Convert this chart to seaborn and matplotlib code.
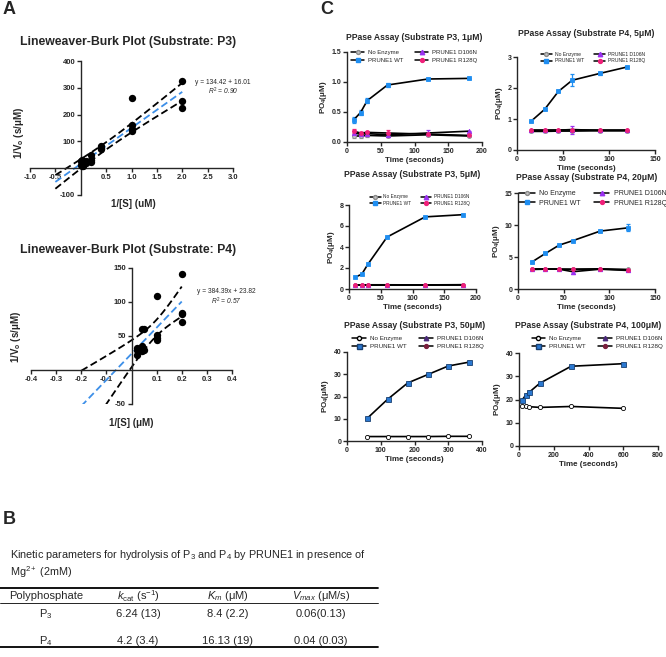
import numpy as np
import matplotlib
matplotlib.use('Agg')
import matplotlib.pyplot as plt
from matplotlib.lines import Line2D
import seaborn as sns

sns.set_theme(style='white')
plt.rcParams['font.family'] = ['Liberation Sans', 'DejaVu Sans']
plt.rcParams['mathtext.fontset'] = 'custom'
plt.rcParams['mathtext.rm'] = 'Liberation Sans'
plt.rcParams['mathtext.it'] = 'Liberation Sans:italic'
plt.rcParams['mathtext.bf'] = 'Liberation Sans:bold'
plt.rcParams['axes.linewidth'] = 1.0

# ---- A: Lineweaver-Burk data ----
p3_inv_s = [2, 2, 2, 1, 1, 1, 1, 0.4, 0.4, 0.4, 0.2, 0.2, 0.2, 0.1, 0.1,
            0.05, 0.05, 0.05, 0.02, 0.02, 0.02, 0.01, 0.01]
p3_inv_v = [324, 251, 223, 263, 163, 145, 137, 84, 75, 70, 49, 30, 22, 25, 20,
            22, 15, 10, 30, 18, 8, 28, 12]
p3_slope, p3_icpt = 134.42, 16.01

p4_inv_s = [0.2, 0.2, 0.2, 0.2, 0.1, 0.1, 0.1, 0.1, 0.05, 0.05,
            0.04, 0.04, 0.04, 0.02, 0.02, 0.02]
p4_inv_v = [141, 84, 82, 71, 109, 52, 47, 44, 61, 30,
            61, 36, 28, 33, 30, 22]
p4_slope, p4_icpt = 384.39, 23.82

# ---- B: kinetic table ----
tbl_cols = ['Polyphosphate', r'$k_{\mathrm{cat}}$ (s$^{-1}$)', r'$K_{m}$ (μM)', r'$V_{max}$ (μM/s)']
tbl_sub = ['P$_3$', 'P$_4$']
tbl_kcat = ['6.24 (13)', '4.2 (3.4)']
tbl_km = ['8.4 (2.2)', '16.13 (19)']
tbl_vmax = ['0.06(0.13)', '0.04 (0.03)']

# ---- C: PPase assays ----
groups = ['No Enzyme', 'PRUNE1 WT', 'PRUNE1 D106N', 'PRUNE1 R128Q']

c1_time = [10, 20, 30, 60, 120, 180]
c1_none = [0.10, 0.10, 0.11, 0.10, 0.12, 0.10]
c1_none_err = [0.04, 0.03, 0.02, 0.02, 0.02, 0.01]
c1_wt = [0.37, 0.49, 0.69, 0.95, 1.05, 1.06]
c1_wt_err = [0.05, 0.04, 0.04, 0.04, 0.01, 0.01]
c1_d106n = [0.15, 0.13, 0.14, 0.12, 0.15, 0.18]
c1_d106n_err = [0.03, 0.03, 0.02, 0.02, 0.05, 0.01]
c1_r128q = [0.18, 0.15, 0.16, 0.15, 0.13, 0.11]
c1_r128q_err = [0.03, 0.02, 0.02, 0.05, 0.02, 0.01]

c2_time = [15, 30, 45, 60, 90, 120]
c2_none = [0.60, 0.60, 0.61, 0.61, 0.62, 0.62]
c2_none_err = [0.03, 0.03, 0.03, 0.03, 0.05, 0.03]
c2_wt = [0.92, 1.31, 1.89, 2.25, 2.47, 2.68]
c2_wt_err = [0.02, 0.03, 0.03, 0.20, 0.06, 0.02]
c2_d106n = [0.63, 0.63, 0.64, 0.66, 0.63, 0.63]
c2_d106n_err = [0.02, 0.05, 0.02, 0.13, 0.02, 0.02]
c2_r128q = [0.63, 0.63, 0.63, 0.63, 0.63, 0.63]
c2_r128q_err = [0.02, 0.02, 0.02, 0.02, 0.02, 0.02]

c3_time = [10, 20, 30, 60, 120, 180]
c3_none = [0.38, 0.37, 0.37, 0.38, 0.38, 0.39]
c3_wt = [1.14, 1.40, 2.38, 4.95, 6.87, 7.08]
c3_d106n = [0.40, 0.38, 0.36, 0.38, 0.38, 0.40]
c3_r128q = [0.40, 0.39, 0.40, 0.40, 0.39, 0.41]

c4_time = [15, 30, 45, 60, 90, 120]
c4_none = [3.10, 3.10, 3.10, 3.05, 3.10, 3.05]
c4_wt = [4.20, 5.55, 6.85, 7.55, 9.05, 9.55]
c4_wt_err = [0.10, 0.10, 0.10, 0.10, 0.15, 0.55]
c4_d106n = [3.05, 3.10, 3.10, 2.70, 3.10, 2.90]
c4_d106n_err = [0.10, 0.10, 0.10, 0.40, 0.10, 0.10]
c4_r128q = [3.10, 3.15, 3.10, 3.10, 3.15, 3.00]

c5_time = [60, 120, 180, 240, 300, 360]
c5_none = [2.0, 2.0, 2.0, 2.0, 2.1, 2.1]
c5_wt = [10.2, 18.7, 26.1, 29.9, 33.7, 35.4]

c6_time = [20, 40, 60, 120, 300, 600]
c6_none = [17.3, 17.0, 16.9, 16.6, 17.0, 16.2]
c6_wt = [20.0, 22.0, 23.2, 27.0, 34.3, 35.4]

W, H = 666, 657
fig = plt.figure(figsize=(W / 100, H / 100), dpi=100)


def px_box(l, t, r, b):
    return [l / W, 1 - b / H, (r - l) / W, (b - t) / H]


def fy(y):
    return 1 - y / H


def bold_ticks(ax, size):
    for lbl in ax.get_xticklabels() + ax.get_yticklabels():
        lbl.set_fontweight('bold')
        lbl.set_fontsize(size)


# panel letters
fig.text(3 / W, fy(10), 'A', fontsize=13, fontweight='bold', va='center')
fig.text(3 / W, fy(519), 'B', fontsize=13, fontweight='bold', va='center')
fig.text(320 / W, fy(10), 'C', fontsize=13, fontweight='bold', va='center')


# ---------------- A ----------------
def lb_panel(box, xs, ys, slope, icpt, xfit, xlim, ylim, xticks, yticks,
             title, title_y, xlabel, eq, r2, eq_xy, ylab_xy, xlab_xy):
    ax = fig.add_axes(px_box(*box))
    xs_a, ys_a = np.array(xs), np.array(ys)
    xg = np.linspace(xfit[0], xfit[1], 80)
    yg = slope * xg + icpt
    resid = ys_a - (slope * xs_a + icpt)
    n = len(xs_a)
    s = np.sqrt(np.sum(resid ** 2) / (n - 2))
    se = s * np.sqrt(1 / n + (xg - xs_a.mean()) ** 2 / np.sum((xs_a - xs_a.mean()) ** 2))
    band = 2.08 * se
    ax.plot(xg, yg + band, color='black', ls=(0, (4, 2)), lw=1.3)
    ax.plot(xg, yg - band, color='black', ls=(0, (4, 2)), lw=1.3)
    ax.plot(xg, yg, color='#3d8fe8', ls=(0, (4, 2)), lw=1.3)
    sns.scatterplot(x=xs, y=ys, ax=ax, color='black', s=28, edgecolor='black',
                    linewidth=0, zorder=4, legend=False)
    ax.set_xlim(*xlim)
    ax.set_ylim(*ylim)
    ax.spines['left'].set_position(('data', 0))
    ax.spines['bottom'].set_position(('data', 0))
    ax.spines['top'].set_visible(False)
    ax.spines['right'].set_visible(False)
    ax.set_xticks(xticks)
    ax.set_xticklabels(['{:.1f}'.format(v) for v in xticks])
    ax.set_yticks(yticks)
    ax.set_yticklabels(['{:d}'.format(v) for v in yticks])
    ax.tick_params(left=True, bottom=True, direction='out', length=3, width=1, pad=1)
    bold_ticks(ax, 5.5)
    ax.set_xlabel(xlabel, fontsize=7, fontweight='bold')
    ax.set_ylabel('1/V$_\\mathbf{o}$ (s/μM)', fontsize=7, fontweight='bold')
    ax.yaxis.set_label_coords(*ylab_xy)
    ax.xaxis.set_label_coords(*xlab_xy)
    fig.text(20 / W, fy(title_y), title, fontsize=8.8, fontweight='bold', va='center')
    ax.text(eq_xy[0], eq_xy[1], eq, fontsize=4.8, ha='center', va='center', clip_on=False)
    ax.text(eq_xy[0], eq_xy[2], r2, fontsize=4.8, ha='center', va='center',
            clip_on=False, style='italic')
    return ax


lb_panel((30, 61, 233, 195), p3_inv_s, p3_inv_v, p3_slope, p3_icpt, (-0.5, 2.0),
         (-1.0, 3.0), (-100, 400), [-1.0, -0.5, 0.5, 1.0, 1.5, 2.0, 2.5, 3.0],
         [-100, 100, 200, 300, 400], 'Lineweaver-Burk Plot (Substrate: P3)', 42,
         '1/[S] (uM)', 'y = 134.42 + 16.01', '$R^2$ = 0.90', (2.8, 318, 288),
         (-0.02, 0.46), (0.51, -0.03))

lb_panel((31, 268, 232, 404), p4_inv_s, p4_inv_v, p4_slope, p4_icpt, (-0.2, 0.2),
         (-0.4, 0.4), (-50, 150), [-0.4, -0.3, -0.2, -0.1, 0.1, 0.2, 0.3, 0.4],
         [-50, 50, 100, 150], 'Lineweaver-Burk Plot (Substrate: P4)', 250,
         '1/[S] (μM)', 'y = 384.39x + 23.82', '$R^2$ = 0.57', (0.376, 115, 101),
         (-0.04, 0.49), (0.5, -0.1))

# ---------------- B ----------------
fig.text(10 / W, fy(555), 'Kinetic parameters for hydrolysis of P$_3$ and P$_4$ by PRUNE1 in presence of',
         fontsize=7.8, va='center')
fig.text(10 / W, fy(572), 'Mg$^{2+}$ (2mM)', fontsize=7.8, va='center')
axb = fig.add_axes([0, 0, 1, 1], zorder=-1)
axb.set_xlim(0, W)
axb.set_ylim(H, 0)
axb.axis('off')
axb.plot([0, 378], [588, 588], color='black', lw=1.3)
axb.plot([0, 378], [603, 603], color='black', lw=0.6)
axb.plot([0, 378], [647, 647], color='black', lw=1.3)
col_x = [46, 138, 228, 321]
for cx, lbl in zip(col_x, tbl_cols):
    axb.text(cx, 596, lbl, fontsize=8, ha='center', va='center')
for i, row_y in enumerate([614, 641]):
    for cx, vals in zip(col_x, [tbl_sub, tbl_kcat, tbl_km, tbl_vmax]):
        axb.text(cx, row_y, vals[i], fontsize=8, ha='center', va='center')

# ---------------- C ----------------
light = {
    'No Enzyme': dict(m='o', c='#9a9a9a', fc='#c4c4c4', ec='#8a8a8a', ms=2.8),
    'PRUNE1 WT': dict(m='s', c='#1f8ef1', fc='#1f8ef1', ec='#1f8ef1', ms=3.0),
    'PRUNE1 D106N': dict(m='^', c='#9b32f0', fc='#9b32f0', ec='#9b32f0', ms=3.2),
    'PRUNE1 R128Q': dict(m='o', c='#f0207a', fc='#f0207a', ec='#f0207a', ms=2.8),
}
dark = {
    'No Enzyme': dict(m='o', c='black', fc='white', ec='black', ms=3.0),
    'PRUNE1 WT': dict(m='s', c='#2b78d0', fc='#2b78d0', ec='#183f70', ms=3.6),
    'PRUNE1 D106N': dict(m='^', c='#4b2a7a', fc='#4b2a7a', ec='#4b2a7a', ms=3.2),
    'PRUNE1 R128Q': dict(m='o', c='#7a1f3d', fc='#7a1f3d', ec='#7a1f3d', ms=2.8),
}


def draw_series(ax, t, v, err, st):
    if err is not None:
        ax.errorbar(t, v, yerr=err, fmt='none', ecolor=st['c'], elinewidth=0.9,
                    capsize=1.6, capthick=0.9, zorder=2)
    sns.lineplot(x=t, y=v, ax=ax, color='black', lw=1.2, marker=st['m'],
                 markersize=st['ms'], markerfacecolor=st['fc'],
                 markeredgecolor=st['ec'], markeredgewidth=0.6, zorder=3)


c_panels = [
    dict(box=(347, 52, 482, 142), time=c1_time, styles=light,
         series=[(c1_none, c1_none_err), (c1_wt, c1_wt_err),
                 (c1_d106n, c1_d106n_err), (c1_r128q, c1_r128q_err)],
         ylim=(0, 1.5), yticks=[0, 0.5, 1.0, 1.5], yfmt='{:.1f}',
         xlim=(0, 200), xticks=[0, 50, 100, 150, 200],
         title='PPase Assay (Substrate P3, 1μM)', title_y=38, leg=(414, 56.5), leg_fs=4.3),
    dict(box=(517, 57, 655, 150), time=c2_time, styles=light,
         series=[(c2_none, c2_none_err), (c2_wt, c2_wt_err),
                 (c2_d106n, c2_d106n_err), (c2_r128q, c2_r128q_err)],
         ylim=(0, 3), yticks=[0, 1, 2, 3], yfmt='{:.0f}',
         xlim=(0, 150), xticks=[0, 50, 100, 150],
         title='PPase Assay (Substrate P4, 5μM)', title_y=33, leg=(593, 57.5), leg_fs=3.6),
    dict(box=(349, 205, 476, 289), time=c3_time, styles=light,
         series=[(c3_none, None), (c3_wt, None), (c3_d106n, None), (c3_r128q, None)],
         ylim=(0, 8), yticks=[0, 2, 4, 6, 8], yfmt='{:.0f}',
         xlim=(0, 200), xticks=[0, 50, 100, 150, 200],
         title='PPase Assay (Substrate P3, 5μM)', title_y=175, leg=(420, 200), leg_fs=3.4),
    dict(box=(518, 193, 655, 289), time=c4_time, styles=light,
         series=[(c4_none, None), (c4_wt, c4_wt_err), (c4_d106n, c4_d106n_err), (c4_r128q, None)],
         ylim=(0, 15), yticks=[0, 5, 10, 15], yfmt='{:.0f}',
         xlim=(0, 150), xticks=[0, 50, 100, 150],
         title='PPase Assay (Substrate P4, 20μM)', title_y=178, leg=(593, 198.5), leg_fs=5.0),
    dict(box=(347, 352, 482, 441), time=c5_time, styles=dark,
         series=[(c5_none, None), (c5_wt, None)],
         ylim=(0, 40), yticks=[0, 10, 20, 30, 40], yfmt='{:.0f}',
         xlim=(0, 400), xticks=[0, 100, 200, 300, 400],
         title='PPase Assay (Substrate P3, 50μM)', title_y=325, leg=(418, 342.5), leg_fs=4.5),
    dict(box=(519, 353, 658, 446), time=c6_time, styles=dark,
         series=[(c6_none, None), (c6_wt, None)],
         ylim=(0, 40), yticks=[0, 10, 20, 30, 40], yfmt='{:.0f}',
         xlim=(0, 800), xticks=[0, 200, 400, 600, 800],
         title='PPase Assay (Substrate P4, 100μM)', title_y=325, leg=(597, 342.5), leg_fs=4.5),
]

for p in c_panels:
    ax = fig.add_axes(px_box(*p['box']))
    for name, (vals, err) in zip(groups, p['series']):
        draw_series(ax, p['time'], vals, err, p['styles'][name])
    ax.set_xlim(*p['xlim'])
    ax.set_ylim(*p['ylim'])
    ax.set_xticks(p['xticks'])
    ax.set_xticklabels([str(v) for v in p['xticks']])
    ax.set_yticks(p['yticks'])
    ax.set_yticklabels([p['yfmt'].format(v) for v in p['yticks']])
    ax.tick_params(left=True, bottom=True, direction='out', length=3, width=1, pad=1)
    bold_ticks(ax, 5)
    sns.despine(ax=ax)
    ax.set_xlabel('Time (seconds)', fontsize=5.8, fontweight='bold', labelpad=2)
    ax.set_ylabel('PO$_\\mathbf{4}$(μM)', fontsize=5.8, fontweight='bold', labelpad=2)
    cx = (p['box'][0] + p['box'][2]) / 2
    fig.text(cx / W, fy(p['title_y']), p['title'], fontsize=6.2, fontweight='bold',
             ha='center', va='center')
    handles = [Line2D([], [], color='black', lw=1.1, marker=p['styles'][g]['m'],
                      markersize=p['styles'][g]['ms'],
                      markerfacecolor=p['styles'][g]['fc'],
                      markeredgecolor=p['styles'][g]['ec']) for g in groups]
    ax.legend(handles, groups, loc='center', ncol=2, frameon=False,
              bbox_to_anchor=(p['leg'][0] / W, fy(p['leg'][1])),
              bbox_transform=fig.transFigure, fontsize=p['leg_fs'],
              handlelength=2.2, columnspacing=2.0, handletextpad=0.6,
              labelspacing=0.35, borderpad=0)

fig.savefig('out.png', dpi=100)
